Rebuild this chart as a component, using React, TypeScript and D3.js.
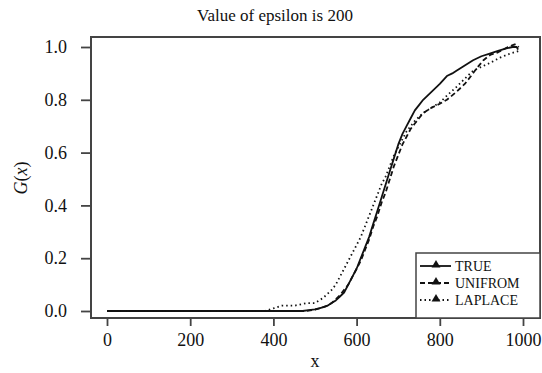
import React, { useRef, useEffect } from 'react';
import * as d3 from 'd3';

const X_TICKS = [0, 200, 400, 600, 800, 1000];
const Y_TICKS = [0, 0.2, 0.4, 0.6, 0.8, 1.0];

// ECDF points
const TRUE_X = [0, 470, 490, 500, 510, 520, 530, 540, 550, 560, 570, 580, 590, 600, 610, 620, 630, 640, 650, 660, 670, 680, 690, 700, 710, 720, 730, 740, 750, 760, 780, 800, 817, 830, 840, 860, 880, 900, 920, 940, 960, 975, 985, 988];
const TRUE_Y = [0, 0, 0.004, 0.006, 0.01, 0.015, 0.02, 0.03, 0.04, 0.055, 0.07, 0.1, 0.13, 0.16, 0.2, 0.24, 0.28, 0.33, 0.38, 0.43, 0.48, 0.53, 0.58, 0.63, 0.67, 0.7, 0.73, 0.76, 0.78, 0.8, 0.83, 0.86, 0.89, 0.9, 0.91, 0.93, 0.95, 0.965, 0.975, 0.985, 0.995, 1.0, 1.0, 0.99];

const UNI_X = [0, 480, 500, 510, 520, 530, 540, 550, 560, 570, 580, 590, 600, 610, 620, 630, 640, 650, 660, 670, 680, 690, 700, 710, 720, 730, 740, 750, 760, 780, 800, 817, 840, 860, 875, 889, 905, 921, 940, 964, 980, 990];
const UNI_Y = [0, 0, 0.005, 0.01, 0.015, 0.02, 0.03, 0.045, 0.06, 0.08, 0.1, 0.13, 0.16, 0.19, 0.23, 0.27, 0.32, 0.36, 0.41, 0.45, 0.5, 0.55, 0.59, 0.63, 0.66, 0.69, 0.71, 0.73, 0.75, 0.77, 0.785, 0.8, 0.83, 0.86, 0.89, 0.92, 0.95, 0.97, 0.98, 1.0, 1.01, 1.0];

const LAP_X = [0, 380, 400, 420, 450, 480, 500, 510, 520, 530, 540, 550, 560, 570, 580, 590, 600, 610, 620, 630, 640, 650, 660, 670, 680, 690, 700, 710, 720, 730, 740, 750, 760, 780, 800, 820, 841, 860, 880, 900, 921, 945, 969, 990];
const LAP_Y = [0, 0, 0.01, 0.02, 0.02, 0.03, 0.03, 0.04, 0.05, 0.065, 0.08, 0.1, 0.13, 0.16, 0.19, 0.22, 0.25, 0.28, 0.32, 0.36, 0.4, 0.44, 0.48, 0.51, 0.55, 0.59, 0.62, 0.65, 0.68, 0.7, 0.72, 0.735, 0.75, 0.77, 0.79, 0.82, 0.85, 0.88, 0.91, 0.925, 0.94, 0.96, 0.975, 0.985];

const SERIES = [
  { name: 'TRUE', xs: TRUE_X, ys: TRUE_Y, dash: '' },
  { name: 'UNIFROM', xs: UNI_X, ys: UNI_Y, dash: '5,3' },
  { name: 'LAPLACE', xs: LAP_X, ys: LAP_Y, dash: '1.5,3' },
];

const FONT = '"Liberation Serif", "DejaVu Serif", serif';

export default function App() {
  const svgRef = useRef<SVGSVGElement>(null);

  useEffect(() => {
    const svg = d3.select(svgRef.current);
    svg.selectAll('*').remove();

    const frame = { left: 91, top: 37, right: 540, bottom: 318 };
    const x = d3.scaleLinear().domain([0, 1000]).range([107, 523]);
    const y = d3.scaleLinear().domain([0, 1]).range([311, 47]);

    svg.append('rect').attr('width', 542).attr('height', 373).attr('fill', '#fff');

    // curves
    SERIES.forEach(s => {
      const pts = s.xs.map((v, i) => [v, s.ys[i]] as [number, number]);
      const line = d3.line<[number, number]>()
        .x(d => x(d[0])).y(d => y(d[1]));
      svg.append('path').datum(pts)
        .attr('fill', 'none').attr('stroke', '#111')
        .attr('stroke-width', 1.8)
        .attr('stroke-linejoin', 'round')
        .attr('stroke-dasharray', s.dash || null)
        .attr('d', line);
    });

    // frame
    svg.append('rect')
      .attr('x', frame.left).attr('y', frame.top)
      .attr('width', frame.right - frame.left).attr('height', frame.bottom - frame.top)
      .attr('fill', 'none').attr('stroke', '#444').attr('stroke-width', 2);

    // x axis
    const xAxis = svg.append('g').attr('transform', `translate(0,${frame.bottom})`)
      .call(d3.axisBottom(x).tickValues(X_TICKS).tickSize(8).tickPadding(7).tickFormat(d3.format('d')));
    xAxis.select('.domain').remove();
    xAxis.selectAll('line').attr('stroke', '#444').attr('stroke-width', 1.8);
    xAxis.selectAll('text').attr('fill', '#111').attr('font-size', '18px').attr('font-family', FONT);

    // y axis
    const yAxis = svg.append('g').attr('transform', `translate(${frame.left},0)`)
      .call(d3.axisLeft(y).tickValues(Y_TICKS).tickSize(10).tickPadding(14).tickFormat(d3.format('.1f')));
    yAxis.select('.domain').remove();
    yAxis.selectAll('line').attr('stroke', '#444').attr('stroke-width', 1.8);
    yAxis.selectAll('text').attr('fill', '#111').attr('font-size', '18px').attr('font-family', FONT);

    // labels
    svg.append('text')
      .attr('x', 315).attr('y', 367)
      .attr('text-anchor', 'middle').attr('font-family', FONT).attr('font-size', '18px').attr('fill', '#111')
      .text('x');

    const gl = svg.append('text')
      .attr('transform', 'translate(27,178) rotate(-90)')
      .attr('text-anchor', 'middle').attr('font-family', FONT).attr('font-size', '18px').attr('fill', '#111');
    gl.append('tspan').attr('font-style', 'italic').text('G');
    gl.append('tspan').text('(');
    gl.append('tspan').attr('font-style', 'italic').text('x');
    gl.append('tspan').text(')');

    svg.append('text')
      .attr('x', 275).attr('y', 21)
      .attr('text-anchor', 'middle').attr('font-family', FONT).attr('font-size', '17px').attr('fill', '#111')
      .text('Value of epsilon is 200');

    // legend
    const lg = { left: 416, top: 253 };
    svg.append('rect')
      .attr('x', lg.left).attr('y', lg.top)
      .attr('width', frame.right - lg.left).attr('height', frame.bottom - lg.top)
      .attr('fill', '#fff').attr('stroke', '#444').attr('stroke-width', 1.5);

    SERIES.forEach((s, i) => {
      const cy = lg.top + 13 + i * 17;
      svg.append('line')
        .attr('x1', lg.left + 4).attr('x2', lg.left + 35)
        .attr('y1', cy).attr('y2', cy)
        .attr('stroke', '#111').attr('stroke-width', 1.8)
        .attr('stroke-dasharray', s.dash || null);
      svg.append('path')
        .attr('d', d3.symbol(d3.symbolTriangle, 34)())
        .attr('transform', `translate(${lg.left + 20},${cy - 1})`)
        .attr('fill', '#111');
      svg.append('text')
        .attr('x', lg.left + 39).attr('y', cy + 5)
        .attr('font-family', FONT).attr('font-size', '14px').attr('fill', '#111')
        .text(s.name);
    });
  }, []);

  return (
    <svg ref={svgRef} width={542} height={373}
      style={{ position: 'absolute', top: 0, left: 0, display: 'block' }} />
  );
}
